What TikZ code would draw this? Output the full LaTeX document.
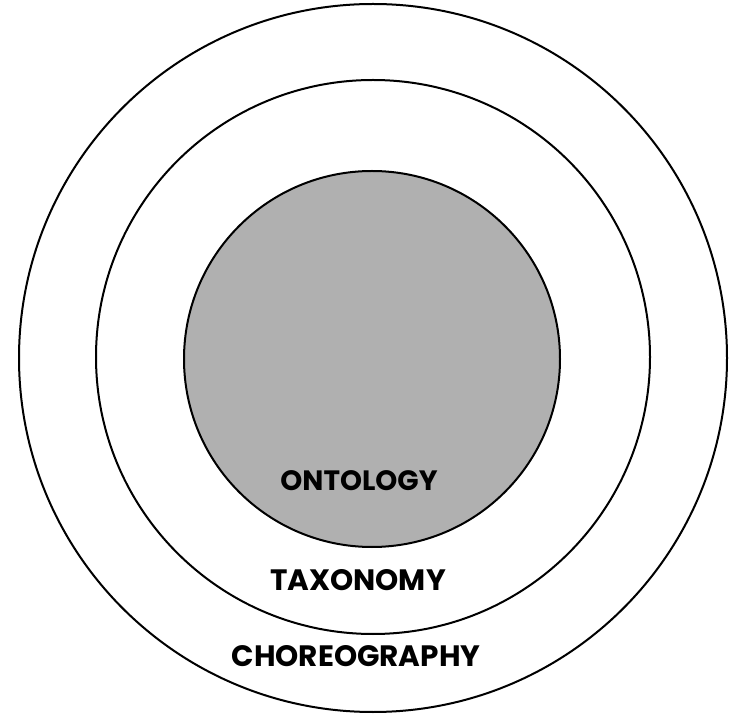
\documentclass[tikz,border=0pt]{standalone}
\usepackage{fontspec}
\setmainfont{Poppins}

\begin{document}
\begin{tikzpicture}[x=1pt,y=1pt,
  ring/.style={circle, draw=black, line width=2pt, inner sep=0pt},
  layername/.style={font=\fontsize{28}{32}\selectfont\bfseries},
  widename/.style={font=\fontsize{29.5}{33}\selectfont\bfseries}]
\useasboundingbox (0,0) rectangle (734,713);

% Rings, outer to inner
\node[ring, minimum size=708] (choreography) at (373,355) {};
\node[ring, minimum size=554] (taxonomy) at (373,356) {};
\node[ring, minimum size=376, fill={rgb,255:red,176;green,176;blue,176}] (ontology) at (372,354) {};

% Ring names
\node[layername] (ontologyname) at (359,232) {ONTOLOGY};
\node[widename] (taxonomyname) at (358,133) {TAXONOMY};
\node[widename] (choreographyname) at (356,57) {CHOREOGRAPHY};
\end{tikzpicture}
\end{document}
